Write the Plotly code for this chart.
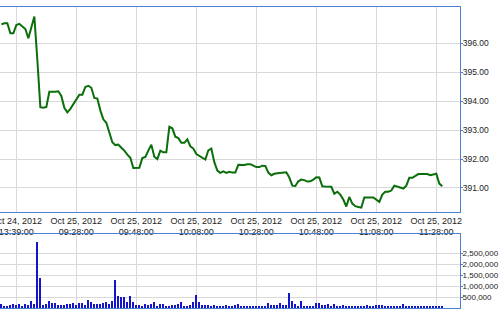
import plotly.graph_objects as go

# ---- data ----
price = [396.65, 396.69, 396.69, 396.34, 396.34, 396.63, 396.67, 396.58, 396.49, 396.17,
         396.60, 396.92, 395.42, 393.79, 393.77, 393.80, 394.32, 394.31, 394.32, 394.34,
         394.18, 393.77, 393.61, 393.73, 393.89, 394.04, 394.22, 394.22, 394.49, 394.53,
         394.46, 394.11, 394.09, 393.68, 393.37, 393.25, 392.91, 392.58, 392.48, 392.50,
         392.39, 392.29, 392.15, 392.04, 391.69, 391.69, 391.70, 392.03, 392.07, 392.29,
         392.49, 392.08, 392.00, 392.29, 392.23, 392.23, 393.11, 393.06, 392.77, 392.72,
         392.56, 392.56, 392.68, 392.44, 392.36, 392.17, 392.10, 392.03, 391.98, 392.30,
         392.36, 391.89, 391.60, 391.52, 391.57, 391.52, 391.56, 391.53, 391.53, 391.80,
         391.80, 391.79, 391.82, 391.82, 391.77, 391.72, 391.72, 391.77, 391.76, 391.53,
         391.44, 391.49, 391.51, 391.52, 391.52, 391.54, 391.36, 391.08, 391.07, 391.23,
         391.29, 391.27, 391.22, 391.23, 391.29, 391.37, 391.36, 391.06, 391.05, 391.05,
         391.04, 390.80, 390.87, 390.77, 390.60, 390.36, 390.69, 390.46, 390.37, 390.34,
         390.32, 390.67, 390.68, 390.67, 390.67, 390.60, 390.52, 390.77, 390.87, 390.87,
         390.91, 391.08, 391.04, 391.01, 390.98, 391.08, 391.35, 391.35, 391.41, 391.48,
         391.48, 391.48, 391.48, 391.44, 391.46, 391.49, 391.15, 391.06]

volume_k = [167, 106, 76, 152, 167, 152, 167, 106, 197, 136,
            333, 167, 2980, 1380, 152, 167, 318, 242, 242, 136,
            152, 152, 197, 197, 227, 152, 242, 242, 152, 379,
            258, 197, 197, 197, 242, 288, 197, 333, 1290, 560,
            485, 515, 258, 560, 288, 152, 136, 106, 197, 152,
            182, 258, 106, 167, 167, 76, 106, 152, 152, 197,
            258, 106, 76, 136, 288, 606, 288, 152, 152, 152,
            106, 136, 106, 106, 76, 136, 106, 76, 152, 197,
            76, 76, 106, 76, 76, 106, 106, 76, 76, 242,
            152, 152, 152, 242, 152, 152, 697, 303, 167, 76,
            333, 106, 106, 76, 106, 242, 242, 152, 152, 182,
            76, 197, 106, 76, 152, 106, 76, 76, 106, 106,
            106, 106, 152, 106, 76, 152, 152, 152, 106, 106,
            76, 76, 76, 106, 197, 76, 76, 76, 76, 76,
            76, 76, 76, 76, 76, 76, 76, 76]
volume = [v * 1000 for v in volume_k]

tick_pos = [5, 25, 45, 65, 85, 105, 125, 145]
tick_labels = ["Oct 24, 2012<br>13:39:00", "Oct 25, 2012<br>09:28:00",
               "Oct 25, 2012<br>09:48:00", "Oct 25, 2012<br>10:08:00",
               "Oct 25, 2012<br>10:28:00", "Oct 25, 2012<br>10:48:00",
               "Oct 25, 2012<br>11:08:00", "Oct 25, 2012<br>11:28:00"]
price_ticks = [391, 392, 393, 394, 395, 396]
vol_ticks = [500000, 1000000, 1500000, 2000000, 2500000]

idx = list(range(len(price)))

BORDER = "#4a7fd4"
GRID = "#d9d9d9"

fig = go.Figure()
fig.add_trace(go.Scatter(x=idx, y=price, mode="lines",
                         line=dict(color="#0a6e0a", width=2),
                         xaxis="x", yaxis="y", showlegend=False, hoverinfo="skip"))
fig.add_trace(go.Bar(x=idx, y=volume, width=0.5,
                     marker=dict(color="#1414c8", line=dict(width=0)),
                     xaxis="x2", yaxis="y2", showlegend=False, hoverinfo="skip"))

xr = [-0.45, 152.9]
common_x = dict(range=xr, tickvals=tick_pos, showgrid=True, gridcolor=GRID, gridwidth=1,
                showline=True, mirror=True, linecolor=BORDER, linewidth=1,
                zeroline=False, fixedrange=True, automargin=False)

fig.update_layout(
    width=500, height=312,
    margin=dict(l=0, r=40, t=7, b=4, autoexpand=False),
    paper_bgcolor="white", plot_bgcolor="white",
    font=dict(family="Liberation Sans, Arial, sans-serif", size=9, color="#222"),
    bargap=0,
    xaxis=dict(common_x, domain=[0, 1], anchor="y", ticktext=tick_labels,
               ticks="", tickfont=dict(size=9), ticklabeloverflow="allow"),
    xaxis2=dict(common_x, domain=[0, 1], anchor="y2", showticklabels=False, ticks=""),
    yaxis=dict(domain=[0.319, 1], anchor="x", side="right", range=[390.17, 397.25],
               tickvals=price_ticks, tickformat=".2f", ticks="outside", ticklen=2,
               tickcolor=BORDER, showline=True, linecolor=BORDER, linewidth=1,
               mirror=False, showgrid=True, gridcolor=GRID, zeroline=False,
               automargin=False, tickfont=dict(size=8.5), ticklabelstandoff=-2),
    yaxis2=dict(domain=[0, 0.2458], anchor="x2", side="right", range=[0, 3364000],
                tickvals=vol_ticks, tickformat=",d", ticks="outside", ticklen=2,
                tickcolor=BORDER, showline=True, linecolor=BORDER, linewidth=1,
                mirror=False, showgrid=True, gridcolor=GRID, zeroline=False,
                automargin=False, tickfont=dict(size=8), ticklabelstandoff=-2,
                ticklabeloverflow="allow"),
)

fig.write_html("out.html")
